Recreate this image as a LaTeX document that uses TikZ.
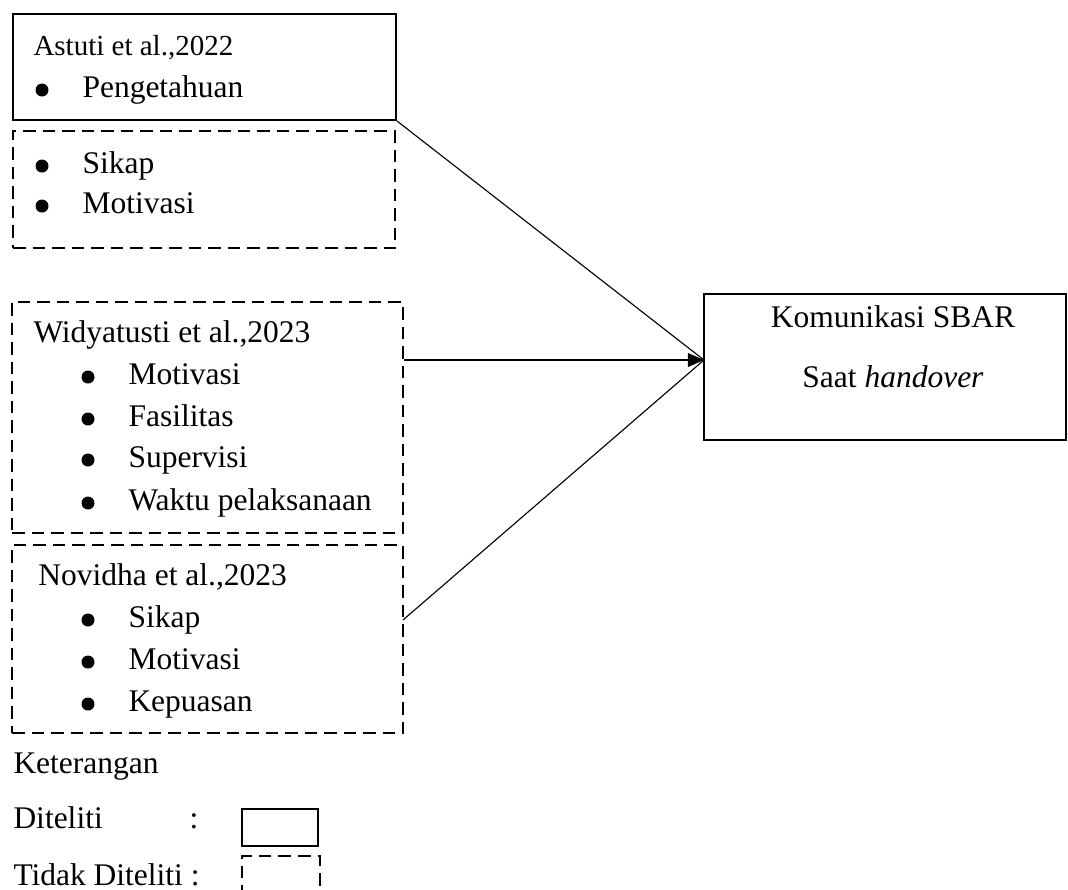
\documentclass[tikz,border=0pt]{standalone}
\usepackage{fontspec}
\setmainfont{Liberation Serif}
\usetikzlibrary{arrows.meta,fit}
\begin{document}
\begin{tikzpicture}[x=0.4pt,y=-0.4pt,
  txt/.style={inner sep=0pt,anchor=base west,font=\fontsize{12.6}{15}\selectfont},
  smalltxt/.style={inner sep=0pt,anchor=base west,font=\fontsize{11.6}{14}\selectfont},
  ctxt/.style={inner sep=0pt,anchor=base,font=\fontsize{12.6}{15}\selectfont},
  solidbox/.style={draw,line width=0.85pt,inner sep=0pt},
  dashbox/.style={draw,line width=0.85pt,inner sep=0pt,dash pattern=on 5pt off 2.8pt},
  bul/.style={circle,fill,inner sep=0pt,minimum size=5.2pt},
  conn/.style={line width=0.45pt}]
\useasboundingbox (0,0) rectangle (1068,889);
\clip (0,0) rectangle (1068,889);
% boxes
\node[solidbox,fit={(13,14) (396,120)}] (b1) {};
\node[dashbox,fit={(13,131) (395,248)}] (b2) {};
\node[dashbox,fit={(12,302) (403,533)}] (b3) {};
\node[dashbox,fit={(12,545) (403,733)}] (b4) {};
\node[solidbox,fit={(704,294) (1066,440)}] (tgt) {};
% box 1
\node[smalltxt] (t1) at (33,55) {Astuti et al.,2022};
\node[bul] (p1) at (42,90) {};
\node[txt] (t1a) at (82,97) {Pengetahuan};
% box 2
\node[bul] (p2a) at (42,166) {};
\node[txt] (t2a) at (82,173) {Sikap};
\node[bul] (p2b) at (42,206) {};
\node[txt] (t2b) at (82,213) {Motivasi};
% box 3
\node[txt] (t3) at (33,342) {Widyatusti et al.,2023};
\node[bul] (p3a) at (88,377) {};
\node[txt] (t3a) at (128,384) {Motivasi};
\node[bul] (p3b) at (88,419) {};
\node[txt] (t3b) at (128,426) {Fasilitas};
\node[bul] (p3c) at (88,460) {};
\node[txt] (t3c) at (128,467) {Supervisi};
\node[bul] (p3d) at (88,503) {};
\node[txt] (t3d) at (128,510) {Waktu pelaksanaan};
% box 4
\node[txt] (t4) at (38,585) {Novidha et al.,2023};
\node[bul] (p4a) at (88,620) {};
\node[txt] (t4a) at (128,627) {Sikap};
\node[bul] (p4b) at (88,662) {};
\node[txt] (t4b) at (128,669) {Motivasi};
\node[bul] (p4c) at (88,704) {};
\node[txt] (t4c) at (128,711) {Kepuasan};
% target text
\node[ctxt] (tg1) at (893,327) {Komunikasi SBAR};
\node[ctxt] (tg2) at (893,387) {Saat \textit{handover}};
% connectors
\coordinate (tip) at (704,360);
\coordinate (s4) at (403,620);
\draw[conn] (b1.south east) -- (tip);
\draw[conn] (s4) -- (tip);
\draw[conn,-{Triangle[length=6.5pt,width=5.6pt]}] (b3.east |- tip) -- (tip);
% legend
\node[txt] (k) at (13,773) {Keterangan};
\node[txt] (d1) at (13,828) {Diteliti};
\node[txt] (d1c) at (189,828) {:};
\node[txt] (d2) at (13,885) {Tidak Diteliti :};
\node[solidbox,fit={(242,809) (318,846)}] (l1) {};
\node[dashbox,fit={(242,856) (320,905)}] (l2) {};
\end{tikzpicture}
\end{document}
